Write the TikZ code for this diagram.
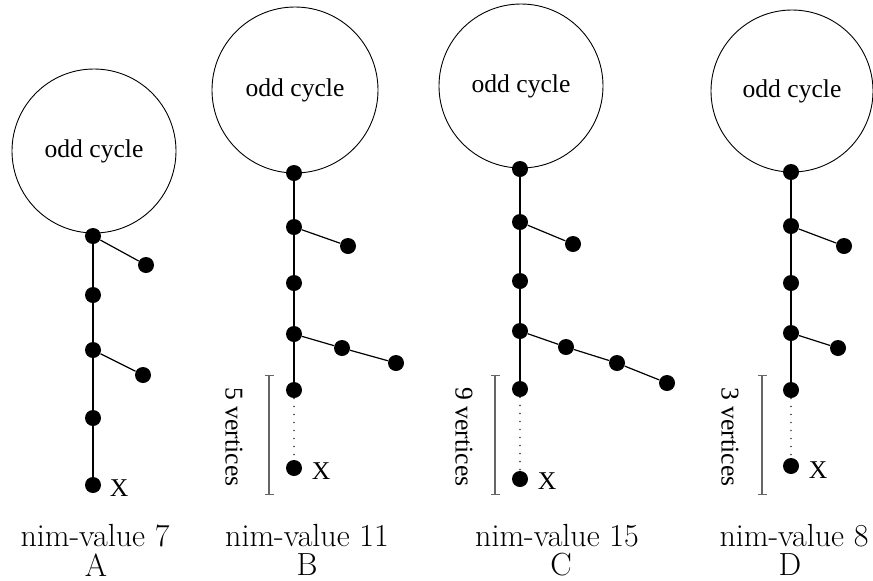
\documentclass[tikz,border=0pt]{standalone}
\usepackage{fontspec}
\newfontfamily\timesf{Liberation Serif}
\usetikzlibrary{arrows.meta}
\begin{document}
\begin{tikzpicture}[x=0.5pt,y=-0.5pt,
  vtx/.style={circle,fill=black,inner sep=0pt,minimum size=8pt},
  cyc/.style={circle,draw,line width=0.45pt,inner sep=0pt,minimum size=#1,
    font=\timesf\fontsize{12.8}{15}\selectfont},
  edge/.style={line width=0.6pt},
  dotline/.style={black!70,line width=0.9pt,dash pattern=on 0.01pt off 4pt,line cap=round},
  brk/.style={gray!80!black,line width=0.6pt,{Bar[width=4.5pt]}-{Bar[width=4.5pt]}},
  tlab/.style={font=\timesf\fontsize{12.8}{15}\selectfont,inner sep=0pt},
  blab/.style={font=\fontsize{16}{19}\selectfont,inner sep=0pt}]
\useasboundingbox (0,0) rectangle (873,580);

% ---- A ----
\node[cyc=82pt] (cA) at (94,151) {odd cycle};
\node[vtx] (a0) at (93,236) {};
\node[vtx] (a0l) at (146,265) {};
\node[vtx] (a1) at (93,295) {};
\node[vtx] (a2) at (93,350) {};
\node[vtx] (a2l) at (143,375) {};
\node[vtx] (a3) at (93,418) {};
\node[vtx] (ax) at (93,485) {};
\node[tlab] (xA) at (119,488) {X};
\draw[edge] (a0) -- (a1) -- (a2) -- (a3) -- (ax);
\draw[edge] (a0) -- (a0l);
\draw[edge] (a2) -- (a2l);

% ---- B ----
\node[cyc=83pt] (cB) at (295,90) {odd cycle};
\node[vtx] (b0) at (294,173) {};
\node[vtx] (b1) at (294,227) {};
\node[vtx] (b1l) at (348,246) {};
\node[vtx] (b2) at (294,283) {};
\node[vtx] (b3) at (294,334) {};
\node[vtx] (b3a) at (342,348) {};
\node[vtx] (b3b) at (396,363) {};
\node[vtx] (b4) at (294,390) {};
\node[vtx] (bx) at (294,468) {};
\node[tlab] (xB) at (321,471) {X};
\draw[edge] (b0) -- (b1) -- (b2) -- (b3) -- (b4);
\draw[edge] (b1) -- (b1l);
\draw[edge] (b3) -- (b3a) -- (b3b);
\draw[dotline] (b4) -- (bx);
\coordinate (bt) at (269,375);
\coordinate (bb) at (269,495);
\draw[brk] (bt) -- (bb);
\node[tlab,rotate=-90] (vB) at (234,437) {5 vertices};

% ---- C ----
\node[cyc=82pt] (cC) at (521,86) {odd cycle};
\node[vtx] (c0) at (520,169) {};
\node[vtx] (c1) at (520,222) {};
\node[vtx] (c1l) at (573,244) {};
\node[vtx] (c2) at (520,281) {};
\node[vtx] (c3) at (520,331) {};
\node[vtx] (c3a) at (566,347) {};
\node[vtx] (c3b) at (617,363) {};
\node[vtx] (c3c) at (667,383) {};
\node[vtx] (c4) at (520,389) {};
\node[vtx] (cx) at (520,479) {};
\node[tlab] (xC) at (547,481) {X};
\draw[edge] (c0) -- (c1) -- (c2) -- (c3) -- (c4);
\draw[edge] (c1) -- (c1l);
\draw[edge] (c3) -- (c3a) -- (c3b) -- (c3c);
\draw[dotline] (c4) -- (cx);
\coordinate (ct) at (495,375);
\coordinate (cb) at (495,495);
\draw[brk] (ct) -- (cb);
\node[tlab,rotate=-90] (vC) at (464,437) {9 vertices};

% ---- D ----
\node[cyc=81pt] (cD) at (792,91) {odd cycle};
\node[vtx] (d0) at (791,172) {};
\node[vtx] (d1) at (791,226) {};
\node[vtx] (d1l) at (844,246) {};
\node[vtx] (d2) at (791,283) {};
\node[vtx] (d3) at (791,333) {};
\node[vtx] (d3l) at (838,348) {};
\node[vtx] (d4) at (791,390) {};
\node[vtx] (dx) at (791,466) {};
\node[tlab] (xD) at (818,470) {X};
\draw[edge] (d0) -- (d1) -- (d2) -- (d3) -- (d4);
\draw[edge] (d1) -- (d1l);
\draw[edge] (d3) -- (d3l);
\draw[dotline] (d4) -- (dx);
\coordinate (dt) at (762,375);
\coordinate (db) at (762,495);
\draw[brk] (dt) -- (db);
\node[tlab,rotate=-90] (vD) at (730,437) {3 vertices};

% ---- captions ----
\node[blab] (nA) at (95,536) {nim-value 7};
\node[blab] (lA) at (96,565) {A};
\node[blab] (nB) at (307,536) {nim-value 11};
\node[blab] (lB) at (307,565) {B};
\node[blab] (nC) at (557,536) {nim-value 15};
\node[blab] (lC) at (561,565) {C};
\node[blab] (nD) at (794,536) {nim-value 8};
\node[blab] (lD) at (790,565) {D};
\end{tikzpicture}
\end{document}
